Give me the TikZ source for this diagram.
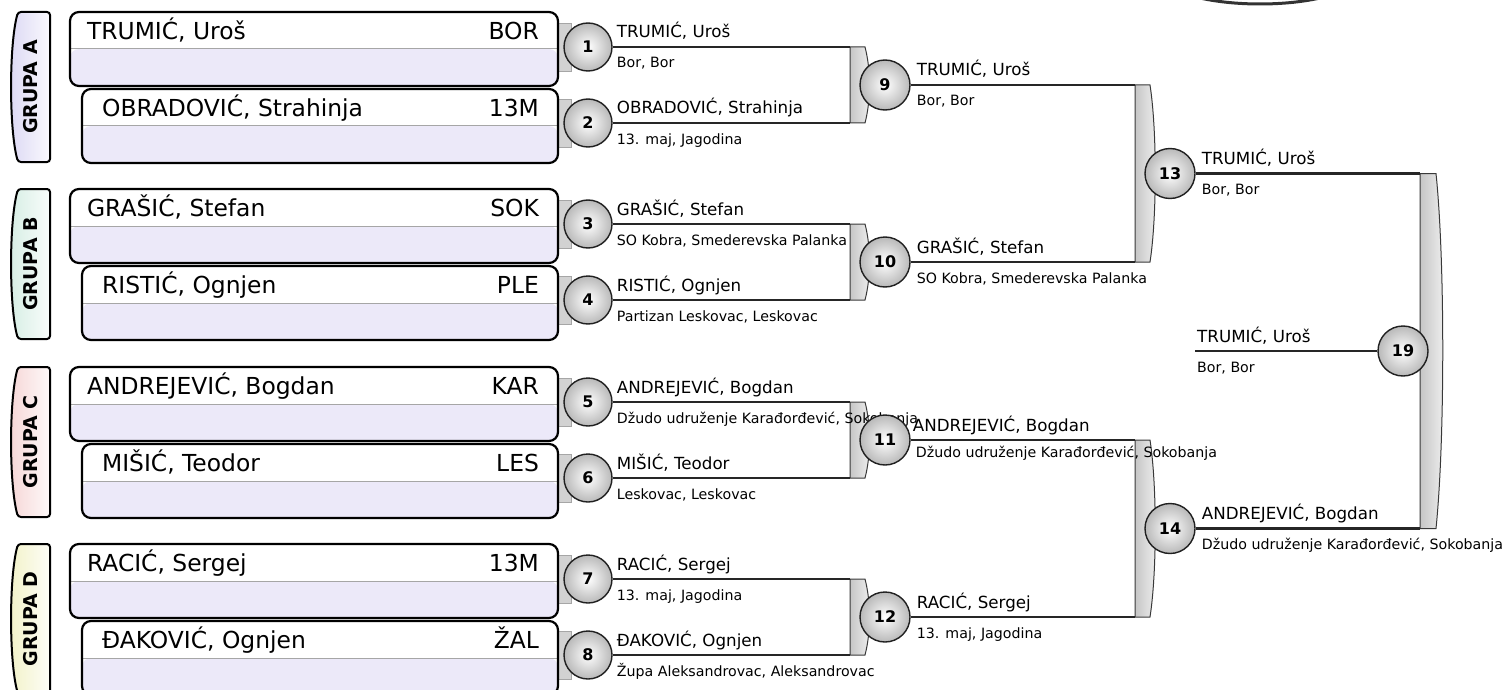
\documentclass[tikz,border=0pt]{standalone}
\usepackage{fontspec}
\setmainfont{DejaVu Sans}
\usepackage{xcolor}
\usepackage{tikz}
\usetikzlibrary{backgrounds}

\definecolor{grpA}{HTML}{DCD8F4}
\definecolor{grpB}{HTML}{D6EEE4}
\definecolor{grpC}{HTML}{F6D6D6}
\definecolor{grpD}{HTML}{F2F2C8}
\definecolor{lav}{HTML}{ECE9F9}

\begin{document}
\begin{tikzpicture}[
      x=1pt, y=-1pt,
      grp/.style={draw=black, line width=2pt, rounded corners=3pt,
                  left color=#1, right color=#1!15!white},
      glabel/.style={rotate=90, inner sep=0pt,
                     font=\fontsize{19}{22}\selectfont\bfseries},
      pbox/.style={draw=black, line width=2.2pt, rounded corners=9pt,
                   minimum height=74pt, fill=white,
                   path picture={
                     \fill[lav] (path picture bounding box.west) rectangle (path picture bounding box.south east);
                     \draw[gray!70, line width=1pt] (path picture bounding box.west) -- (path picture bounding box.east);}},
      bname/.style={inner sep=0pt, font=\fontsize{23.4}{28}\selectfont},
      tab/.style={draw=gray!70, line width=0.8pt, fill=gray!35,
                  minimum width=13pt, minimum height=48pt, inner sep=0pt},
      ball/.style={circle, draw=gray!25!black, line width=1.4pt,
                   inner color=white, outer color=gray!55,
                   minimum size=48pt, inner sep=0pt,
                   font=\fontsize{16}{18}\selectfont\bfseries},
      brk/.style={draw=gray!45!black, line width=1pt,
                  left color=gray!45, right color=gray!12},
      wire/.style={draw=black!85, line width=2.4pt},
      sname/.style={anchor=base west, inner sep=0pt,
                    font=\fontsize{16.7}{20}\selectfont},
      sclub/.style={anchor=base west, inner sep=0pt,
                    font=\fontsize{14.2}{17}\selectfont}
    ]
    \useasboundingbox (0,0) rectangle (1512,690);

    % title frame, cut by the top edge
    \begin{scope}
      \clip (0,0) rectangle (1512,690);
      \draw[line width=3pt, black!80] (1260,-26) ellipse [x radius=100pt, y radius=30pt];
    \end{scope}

    % Group tabs
    \path[grp=grpA] (50,12) -- (18,12) .. controls (9,45) and (9,129) .. (18,162) -- (50,162) -- cycle;
    \node[glabel] (ga) at (31,87) {GRUPA A};
    \path[grp=grpB] (50,189) -- (18,189) .. controls (9,222) and (9,306) .. (18,339) -- (50,339) -- cycle;
    \node[glabel] (gb) at (31,264) {GRUPA B};
    \path[grp=grpC] (50,367) -- (18,367) .. controls (9,400) and (9,484) .. (18,517) -- (50,517) -- cycle;
    \node[glabel] (gc) at (31,442) {GRUPA C};
    \path[grp=grpD] (50,544) -- (18,544) .. controls (9,577) and (9,661) .. (18,694) -- (50,694) -- cycle;
    \node[glabel] (gd) at (31,619) {GRUPA D};

    % Player boxes
    \node[pbox, minimum width=488pt] (pa1) at (314,49) {};
    \node[pbox, minimum width=476pt] (pa2) at (320,126) {};
    \node[pbox, minimum width=488pt] (pb1) at (314,226) {};
    \node[pbox, minimum width=476pt] (pb2) at (320,303) {};
    \node[pbox, minimum width=488pt] (pc1) at (314,404) {};
    \node[pbox, minimum width=476pt] (pc2) at (320,481) {};
    \node[pbox, minimum width=488pt] (pd1) at (314,581) {};
    \node[pbox, minimum width=476pt] (pd2) at (320,658) {};

    \node[bname, anchor=base west] (na1) at ([shift={(18,29)}]pa1.north west) {TRUMIĆ, Uroš};
    \node[bname, anchor=base east] (ka1) at ([shift={(-20,29)}]pa1.north east) {BOR};
    \node[bname, anchor=base west] (na2) at ([shift={(21,29)}]pa2.north west) {OBRADOVIĆ, Strahinja};
    \node[bname, anchor=base east] (ka2) at ([shift={(-20,29)}]pa2.north east) {13M};
    \node[bname, anchor=base west] (nb1) at ([shift={(18,29)}]pb1.north west) {GRAŠIĆ, Stefan};
    \node[bname, anchor=base east] (kb1) at ([shift={(-20,29)}]pb1.north east) {SOK};
    \node[bname, anchor=base west] (nb2) at ([shift={(21,29)}]pb2.north west) {RISTIĆ, Ognjen};
    \node[bname, anchor=base east] (kb2) at ([shift={(-20,29)}]pb2.north east) {PLE};
    \node[bname, anchor=base west] (nc1) at ([shift={(18,29)}]pc1.north west) {ANDREJEVIĆ, Bogdan};
    \node[bname, anchor=base east] (kc1) at ([shift={(-20,29)}]pc1.north east) {KAR};
    \node[bname, anchor=base west] (nc2) at ([shift={(21,29)}]pc2.north west) {MIŠIĆ, Teodor};
    \node[bname, anchor=base east] (kc2) at ([shift={(-20,29)}]pc2.north east) {LES};
    \node[bname, anchor=base west] (nd1) at ([shift={(18,29)}]pd1.north west) {RACIĆ, Sergej};
    \node[bname, anchor=base east] (kd1) at ([shift={(-20,29)}]pd1.north east) {13M};
    \node[bname, anchor=base west] (nd2) at ([shift={(21,29)}]pd2.north west) {ĐAKOVIĆ, Ognjen};
    \node[bname, anchor=base east] (kd2) at ([shift={(-20,29)}]pd2.north east) {ŽAL};

    % Match circles
    \node[ball] (m1)  at (588,47)  {1};
    \node[ball] (m2)  at (588,123) {2};
    \node[ball] (m3)  at (588,224) {3};
    \node[ball] (m4)  at (588,300) {4};
    \node[ball] (m5)  at (588,402) {5};
    \node[ball] (m6)  at (588,478) {6};
    \node[ball] (m7)  at (588,579) {7};
    \node[ball] (m8)  at (588,655) {8};
    \node[ball, minimum size=50pt] (m9)  at (885,85)  {9};
    \node[ball, minimum size=50pt] (m10) at (885,262) {10};
    \node[ball, minimum size=50pt] (m11) at (885,440) {11};
    \node[ball, minimum size=50pt] (m12) at (885,617) {12};
    \node[ball, minimum size=50pt] (m13) at (1170,173.5) {13};
    \node[ball, minimum size=50pt] (m14) at (1170,528.5) {14};
    \node[ball, minimum size=50pt] (m19) at (1403,351) {19};

    \coordinate (j9)  at (850,85);
    \coordinate (j10) at (850,262);
    \coordinate (j11) at (850,440);
    \coordinate (j12) at (850,617);
    \coordinate (j13) at (1135,173.5);
    \coordinate (j14) at (1135,528.5);
    \coordinate (j19) at (1420,351);
    \coordinate (w19) at (1195,351);

    \begin{scope}[on background layer]
      % brackets
      \path[brk] (850,47) -- (865,47) .. controls (871,70) and (871,100) .. (865,123) -- (850,123) -- cycle;
      \path[brk] (850,224) -- (865,224) .. controls (871,247) and (871,277) .. (865,300) -- (850,300) -- cycle;
      \path[brk] (850,402) -- (865,402) .. controls (871,425) and (871,455) .. (865,478) -- (850,478) -- cycle;
      \path[brk] (850,579) -- (865,579) .. controls (871,602) and (871,632) .. (865,655) -- (850,655) -- cycle;
      \path[brk] (1135,85) -- (1150,85) .. controls (1157,130) and (1157,217) .. (1150,262) -- (1135,262) -- cycle;
      \path[brk] (1135,440) -- (1150,440) .. controls (1157,485) and (1157,572) .. (1150,617) -- (1135,617) -- cycle;
      \path[brk] (1420,173.5) -- (1436,173.5) .. controls (1445,260) and (1445,440) .. (1436,528.5) -- (1420,528.5) -- cycle;

      % tabs between boxes and circles
      \node[tab] (ta1) at (565,47)  {};
      \node[tab] (ta2) at (565,123) {};
      \node[tab] (tb1) at (565,224) {};
      \node[tab] (tb2) at (565,300) {};
      \node[tab] (tc1) at (565,402) {};
      \node[tab] (tc2) at (565,478) {};
      \node[tab] (td1) at (565,579) {};
      \node[tab] (td2) at (565,655) {};

      % wires
      \draw[wire] (m1.east)  -- (m1.east -| j9);
      \draw[wire] (m2.east)  -- (m2.east -| j9);
      \draw[wire] (m3.east)  -- (m3.east -| j10);
      \draw[wire] (m4.east)  -- (m4.east -| j10);
      \draw[wire] (m5.east)  -- (m5.east -| j11);
      \draw[wire] (m6.east)  -- (m6.east -| j11);
      \draw[wire] (m7.east)  -- (m7.east -| j12);
      \draw[wire] (m8.east)  -- (m8.east -| j12);
      \draw[wire] (m9.east)  -- (m9.east -| j13);
      \draw[wire] (m10.east) -- (m10.east -| j13);
      \draw[wire] (m11.east) -- (m11.east -| j14);
      \draw[wire] (m12.east) -- (m12.east -| j14);
      \draw[wire] (m13.east) -- (m13.east -| j19);
      \draw[wire] (m14.east) -- (m14.east -| j19);
      \draw[wire] (w19) -- (m19.west);

      % results
      \node[sname] (s1)  at ([shift={(4,-9)}]m1.east)  {TRUMIĆ, Uroš};
      \node[sclub] (c1)  at ([shift={(4,21)}]m1.east)  {Bor, Bor};
      \node[sname] (s2)  at ([shift={(4,-9)}]m2.east)  {OBRADOVIĆ, Strahinja};
      \node[sclub] (c2)  at ([shift={(4,21)}]m2.east)  {13. maj, Jagodina};
      \node[sname] (s3)  at ([shift={(4,-9)}]m3.east)  {GRAŠIĆ, Stefan};
      \node[sclub] (c3)  at ([shift={(4,21)}]m3.east)  {SO Kobra, Smederevska Palanka};
      \node[sname] (s4)  at ([shift={(4,-9)}]m4.east)  {RISTIĆ, Ognjen};
      \node[sclub] (c4)  at ([shift={(4,21)}]m4.east)  {Partizan Leskovac, Leskovac};
      \node[sname] (s5)  at ([shift={(4,-9)}]m5.east)  {ANDREJEVIĆ, Bogdan};
      \node[sclub] (c5)  at ([shift={(4,21)}]m5.east)  {Džudo udruženje Karađorđević, Sokobanja};
      \node[sname] (s6)  at ([shift={(4,-9)}]m6.east)  {MIŠIĆ, Teodor};
      \node[sclub] (c6)  at ([shift={(4,21)}]m6.east)  {Leskovac, Leskovac};
      \node[sname] (s7)  at ([shift={(4,-9)}]m7.east)  {RACIĆ, Sergej};
      \node[sclub] (c7)  at ([shift={(4,21)}]m7.east)  {13. maj, Jagodina};
      \node[sname] (s8)  at ([shift={(4,-9)}]m8.east)  {ĐAKOVIĆ, Ognjen};
      \node[sclub] (c8)  at ([shift={(4,21)}]m8.east)  {Župa Aleksandrovac, Aleksandrovac};
      \node[sname] (s9)  at ([shift={(6,-9)}]m9.east)  {TRUMIĆ, Uroš};
      \node[sclub] (c9)  at ([shift={(6,21)}]m9.east)  {Bor, Bor};
      \node[sname] (s10) at ([shift={(6,-9)}]m10.east) {GRAŠIĆ, Stefan};
      \node[sclub] (c10) at ([shift={(6,21)}]m10.east) {SO Kobra, Smederevska Palanka};
      \node[sname] (s11) at ([shift={(2,-9)}]m11.east) {ANDREJEVIĆ, Bogdan};
      \node[sclub] (c11) at ([shift={(5,17)}]m11.east) {Džudo udruženje Karađorđević, Sokobanja};
      \node[sname] (s12) at ([shift={(6,-9)}]m12.east) {RACIĆ, Sergej};
      \node[sclub] (c12) at ([shift={(6,21)}]m12.east) {13. maj, Jagodina};
      \node[sname] (s13) at ([shift={(6,-9)}]m13.east) {TRUMIĆ, Uroš};
      \node[sclub] (c13) at ([shift={(6,21)}]m13.east) {Bor, Bor};
      \node[sname] (s14) at ([shift={(6,-9)}]m14.east) {ANDREJEVIĆ, Bogdan};
      \node[sclub] (c14) at ([shift={(6,21)}]m14.east) {Džudo udruženje Karađorđević, Sokobanja};
      \node[sname] (s19) at ([shift={(2,-9)}]w19)      {TRUMIĆ, Uroš};
      \node[sclub] (c19) at ([shift={(2,21)}]w19)      {Bor, Bor};
    \end{scope}
  \end{tikzpicture}
\end{document}
